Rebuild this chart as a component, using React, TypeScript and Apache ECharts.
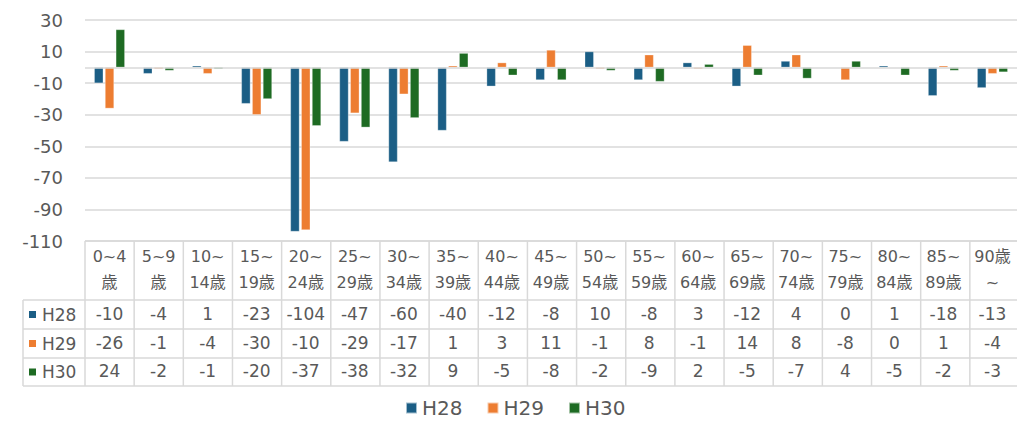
import React, { useEffect, useRef } from "react";
import * as echarts from "echarts";

// ---- data ----
const categories = [
  "0~4歳", "5~9歳", "10~14歳", "15~19歳", "20~24歳", "25~29歳", "30~34歳",
  "35~39歳", "40~44歳", "45~49歳", "50~54歳", "55~59歳", "60~64歳",
  "65~69歳", "70~74歳", "75~79歳", "80~84歳", "85~89歳", "90歳~",
];
const seriesNames = ["H28", "H29", "H30"];
const h28 = [-10, -4, 1, -23, -104, -47, -60, -40, -12, -8, 10, -8, 3, -12, 4, 0, 1, -18, -13];
const h29 = [-26, -1, -4, -30, -103, -29, -17, 1, 3, 11, -1, 8, -1, 14, 8, -8, 0, 1, -4];
const h30 = [24, -2, -1, -20, -37, -38, -32, 9, -5, -8, -2, -9, 2, -5, -7, 4, -5, -2, -3];
// the source data table shows this cell clipped
const h29CellOverrides: Record<number, string> = { 4: "-10" };
const yMin = -110;
const yMax = 30;
const yInterval = 20;

// ---- style / layout ----
const colors = ["#1b5e85", "#ed7d31", "#1e6b23"];
const textColor = "#595959";
const lineColor = "#d9d9d9";
const fontFamily = "'DejaVu Sans', 'Noto Sans CJK JP', sans-serif";
const GRID_LEFT = 85;
const GRID_TOP = 20;
const GRID_BOTTOM_Y = 241;
const PLOT_W = 934;
const TABLE_LEFT = 23;
const ROW_LINES = [300, 329, 358, 386];

const wrapHeader = (s: string) => {
  if (s.endsWith("~")) return s.slice(0, -1) + "\n~";
  const i = s.indexOf("~");
  const rest = s.slice(i + 1);
  if (rest.length <= 2) return s.slice(0, -1) + "\n" + s.slice(-1);
  return s.slice(0, i + 1) + "\n" + rest;
};

export default function App() {
  const ref = useRef<HTMLDivElement>(null);
  useEffect(() => {
    const chart = echarts.init(ref.current!, null, { renderer: "svg" });
    const values = [h28, h29, h30];
    const tableLabels = [
      h28.map((v) => String(v)),
      h29.map((v, i) => (h29CellOverrides[i] !== undefined ? h29CellOverrides[i] : String(v))),
      h30.map((v) => String(v)),
    ];
    const rowCenters = ROW_LINES.slice(0, 3).map((y, i) => (y + ROW_LINES[i + 1]) / 2);
    const colW = PLOT_W / categories.length;
    const right = GRID_LEFT + PLOT_W;

    const graphics: any[] = [];
    for (let i = 0; i <= categories.length; i++) {
      const x = GRID_LEFT + i * colW;
      graphics.push({ type: "line", shape: { x1: x, y1: GRID_BOTTOM_Y, x2: x, y2: ROW_LINES[3] }, style: { stroke: lineColor, lineWidth: 1.5 }, silent: true });
    }
    graphics.push({ type: "line", shape: { x1: TABLE_LEFT, y1: ROW_LINES[0], x2: TABLE_LEFT, y2: ROW_LINES[3] }, style: { stroke: lineColor, lineWidth: 1.5 }, silent: true });
    graphics.push({ type: "line", shape: { x1: GRID_LEFT, y1: GRID_BOTTOM_Y, x2: right, y2: GRID_BOTTOM_Y }, style: { stroke: lineColor, lineWidth: 1.5 }, silent: true });
    ROW_LINES.forEach((y) => {
      graphics.push({ type: "line", shape: { x1: TABLE_LEFT, y1: y, x2: right, y2: y }, style: { stroke: lineColor, lineWidth: 1.5 }, silent: true });
    });
    seriesNames.forEach((name, i) => {
      graphics.push({ type: "rect", shape: { x: 29, y: rowCenters[i] - 3.5, width: 7, height: 7 }, style: { fill: colors[i] }, silent: true });
      graphics.push({ type: "text", x: 42, y: rowCenters[i], style: { text: name, fill: textColor, fontSize: 17, fontFamily, verticalAlign: "middle", align: "left" }, silent: true });
    });

    const rowAxis = (labels: string[], margin: number) => ({
      type: "category",
      data: labels,
      position: "bottom",
      gridIndex: 0,
      axisLine: { show: false, onZero: false },
      axisTick: { show: false },
      splitLine: { show: false },
      axisLabel: { interval: 0, margin, verticalAlign: "middle", fontSize: 17, color: textColor, fontFamily },
    });

    const option: any = {
      animation: false,
      color: colors,
      grid: { left: GRID_LEFT, top: GRID_TOP, width: PLOT_W, height: GRID_BOTTOM_Y - GRID_TOP },
      xAxis: [
        {
          type: "category",
          data: categories,
          position: "bottom",
          axisLine: { show: false, onZero: false },
          axisTick: { show: false },
          axisLabel: {
            interval: 0,
            margin: 28,
            verticalAlign: "middle",
            lineHeight: 26,
            fontSize: 16,
            color: textColor,
            fontFamily,
            formatter: (v: string) => wrapHeader(v),
          },
        },
        rowAxis(tableLabels[0], rowCenters[0] - GRID_BOTTOM_Y - 1),
        rowAxis(tableLabels[1], rowCenters[1] - GRID_BOTTOM_Y - 1),
        rowAxis(tableLabels[2], rowCenters[2] - GRID_BOTTOM_Y - 1),
      ],
      yAxis: {
        type: "value",
        min: yMin,
        max: yMax,
        interval: yInterval,
        axisLine: { show: false },
        axisTick: { show: false },
        axisLabel: { fontSize: 18, margin: 22, color: textColor, fontFamily },
        splitLine: { lineStyle: { color: lineColor, width: 1.5 } },
      },
      legend: {
        data: seriesNames,
        left: 405,
        top: 398,
        padding: 0,
        icon: "rect",
        itemWidth: 11,
        itemHeight: 11,
        itemGap: 24,
        textStyle: { fontSize: 20, color: textColor, fontFamily },
      },
      graphic: graphics,
      series: seriesNames.map((name, i) => ({
        name,
        type: "bar",
        xAxisIndex: 0,
        data: values[i],
        barWidth: 9,
        barGap: "20%",
        itemStyle: { color: colors[i], borderColor: "rgba(255,255,255,0.6)", borderWidth: 0.5 },
        ...(i === 0
          ? {
              markLine: {
                silent: true,
                symbol: ["none", "none"],
                label: { show: false },
                lineStyle: { color: lineColor, width: 1.5, type: "solid" },
                data: [{ yAxis: 0 }],
              },
            }
          : {}),
      })),
    };
    chart.setOption(option);
    return () => chart.dispose();
  }, []);
  return <div ref={ref} style={{ position: "absolute", left: 0, top: 0, width: 1017, height: 424 }} />;
}
